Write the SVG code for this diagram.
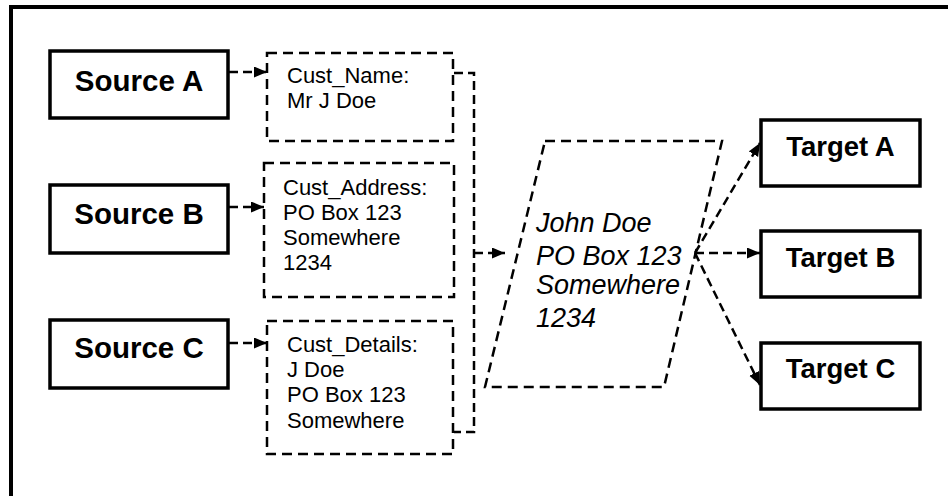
<svg xmlns="http://www.w3.org/2000/svg" width="948" height="496" viewBox="0 0 948 496">
<style>
.frame{fill:none;stroke:#000;stroke-width:4}
.box{fill:#fff;stroke:#000;stroke-width:3.5}
.dbox{fill:none;stroke:#000;stroke-width:2.5;stroke-dasharray:10 6}
.conn{fill:none;stroke:#000;stroke-width:2.5;stroke-dasharray:9 5}
.big{font-family:"Liberation Sans",Arial,sans-serif;font-weight:bold;font-size:29.5px;text-anchor:middle;fill:#000}
.tgt{font-family:"Liberation Sans",Arial,sans-serif;font-weight:bold;font-size:27.5px;text-anchor:middle;fill:#000}
.sm{font-family:"Liberation Sans",Arial,sans-serif;font-size:22px;fill:#000}
.it{font-family:"Liberation Sans",Arial,sans-serif;font-style:italic;font-size:27px;fill:#000}
</style>
<defs>
<marker id="arr" markerUnits="userSpaceOnUse" markerWidth="14" markerHeight="12" refX="13" refY="5.5" orient="auto">
<path d="M0,0 L13,5.5 L0,11 z" fill="#000"/>
</marker>
</defs>
<rect class="frame" x="11" y="7" width="960" height="520"/>
<g id="sourceA"><rect class="box" x="50" y="51" width="178" height="67"/><text class="big" x="139" y="91">Source A</text></g>
<g id="sourceB"><rect class="box" x="50" y="185" width="178" height="68"/><text class="big" x="139" y="224">Source B</text></g>
<g id="sourceC"><rect class="box" x="50" y="320" width="178" height="68"/><text class="big" x="139" y="358">Source C</text></g>
<g id="custName"><rect class="dbox" x="267" y="53" width="186" height="88"/>
<text class="sm" x="287" y="83">Cust_Name:</text><text class="sm" x="287" y="108">Mr J Doe</text></g>
<g id="custAddress"><rect class="dbox" x="264" y="163" width="190" height="134"/>
<text class="sm" x="283" y="195">Cust_Address:</text><text class="sm" x="283" y="220">PO Box 123</text><text class="sm" x="283" y="245">Somewhere</text><text class="sm" x="283" y="270">1234</text></g>
<g id="custDetails"><rect class="dbox" x="267" y="321" width="186" height="133"/>
<text class="sm" x="287" y="352">Cust_Details:</text><text class="sm" x="287" y="377">J Doe</text><text class="sm" x="287" y="402">PO Box 123</text><text class="sm" x="287" y="428">Somewhere</text></g>
<g id="merged"><path class="dbox" d="M545,141 H722 L664,387 H485 Z"/>
<text class="it" x="536" y="232">John Doe</text><text class="it" x="536" y="265">PO Box 123</text><text class="it" x="536" y="294">Somewhere</text><text class="it" x="536" y="327">1234</text></g>
<g id="targetA"><rect class="box" x="761" y="120" width="159" height="66"/><text class="tgt" x="840.5" y="156">Target A</text></g>
<g id="targetB"><rect class="box" x="761" y="231" width="159" height="66"/><text class="tgt" x="840.5" y="267">Target B</text></g>
<g id="targetC"><rect class="box" x="761" y="343" width="159" height="66"/><text class="tgt" x="840.5" y="378">Target C</text></g>
<g id="connectors">
<line class="conn" x1="229" y1="72" x2="267" y2="72" marker-end="url(#arr)"/>
<line class="conn" x1="229" y1="207" x2="264" y2="207" marker-end="url(#arr)"/>
<line class="conn" x1="229" y1="343" x2="267" y2="343" marker-end="url(#arr)"/>
<path class="conn" d="M454,73 H474 V432 H454"/>
<line class="conn" x1="474" y1="253" x2="505" y2="253" marker-end="url(#arr)"/>
<line class="conn" x1="695" y1="253" x2="760" y2="143" marker-end="url(#arr)"/>
<line class="conn" x1="695" y1="253" x2="760" y2="253" marker-end="url(#arr)"/>
<line class="conn" x1="695" y1="253" x2="760" y2="385" marker-end="url(#arr)"/>
</g>
</svg>
